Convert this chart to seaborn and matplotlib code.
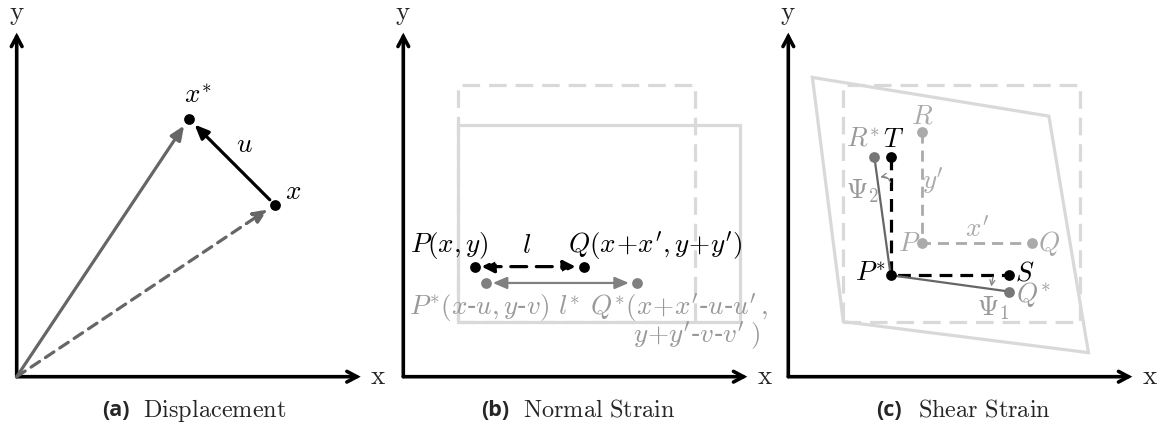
import matplotlib
matplotlib.use("Agg")
import matplotlib.pyplot as plt
import seaborn as sns

sns.set_theme(style="white")
plt.rcParams["mathtext.fontset"] = "cm"
plt.rcParams["font.family"] = ["DejaVu Serif"]

W, H = 1164, 433
PX = 86.0          # pixels per diagram unit
AXIS_LEN = 4.0

# ---- (a) displacement ----
a_x = (3.0, 2.0)
a_xstar = (2.0, 3.0)

# ---- (b) normal strain ----
b_rect_ref = [(0.64, 0.64), (3.39, 0.64), (3.39, 3.39), (0.64, 3.39)]
b_rect_def = [(0.64, 0.64), (3.92, 0.64), (3.92, 2.93), (0.64, 2.93)]
b_P, b_Q = (0.83, 1.28), (2.10, 1.28)
b_Ps, b_Qs = (0.96, 1.09), (2.72, 1.09)

# ---- (c) shear strain ----
c_rect_ref = [(0.64, 0.64), (3.39, 0.64), (3.39, 3.39), (0.64, 3.39)]
c_rect_def = [(0.64, 0.64), (3.49, 0.28), (3.03, 3.03), (0.28, 3.48)]
c_R, c_P, c_Q = (1.56, 2.84), (1.56, 1.56), (2.83, 1.56)
c_Ps, c_S, c_T = (1.19, 1.18), (2.57, 1.18), (1.19, 2.56)
c_Rs, c_Qs = (1.00, 2.56), (2.57, 0.99)

BLACK = "#000000"
DARK = "#666666"
MID = "#808080"
LIGHTTXT = "#999999"
PALE = "#aaaaaa"
RECT = "#d9d9d9"
FS = 19.5


def panel(fig, left_px, right_px, origin_px):
    ox, oy = origin_px
    ax = fig.add_axes([left_px / W, 0, (right_px - left_px) / W, 1])
    ax.set_xlim((left_px - ox) / PX, (right_px - ox) / PX)
    ax.set_ylim((oy - H) / PX, oy / PX)
    ax.axis("off")
    return ax


def axes_arrows(ax):
    style = "->,head_length=0.6,head_width=0.32"
    for end in [(AXIS_LEN, 0), (0, AXIS_LEN)]:
        ax.annotate("", xy=end, xytext=(0, 0),
                    arrowprops=dict(arrowstyle=style, color=BLACK, lw=2.6,
                                    shrinkA=0, shrinkB=0, joinstyle="miter"))
    ax.text(0, AXIS_LEN + 0.22, r"$\mathrm{y}$", ha="center", va="center",
            fontsize=FS)
    ax.text(AXIS_LEN + 0.2, 0.0, r"$\mathrm{x}$", ha="center", va="center",
            fontsize=FS)


def dots(ax, pts, color, size=60):
    xs = [p[0] for p in pts]
    ys = [p[1] for p in pts]
    sns.scatterplot(x=xs, y=ys, ax=ax, color=color, s=size, linewidth=0,
                    zorder=6, legend=False)


def arrow(ax, start, end, color, lw=2.2, ls="-", style="-|>", hl=0.7, hw=0.3,
          sa=0, sb=0):
    ax.annotate("", xy=end, xytext=start,
                arrowprops=dict(arrowstyle=f"{style},head_length={hl},head_width={hw}",
                                color=color, lw=lw, linestyle=ls,
                                shrinkA=sa, shrinkB=sb), zorder=4)


def polygon(ax, pts, color, ls="-", lw=2.3):
    xs = [p[0] for p in pts] + [pts[0][0]]
    ys = [p[1] for p in pts] + [pts[0][1]]
    ax.plot(xs, ys, color=color, lw=lw, linestyle=ls, zorder=1,
            solid_joinstyle="miter")


def caption(ax, x_tag, x_txt, y, tag, words):
    ax.text(x_tag, y, tag, ha="left", va="center", fontsize=15.5,
            fontweight="bold", family="Open Sans")
    ax.text(x_txt, y, r"$\mathrm{" + words.replace(" ", r"\ ") + "}$",
            ha="left", va="center", fontsize=17.5)


def label(ax, x, y, s, color=BLACK, ha="center"):
    ax.text(x, y, s, fontsize=FS, ha=ha, va="center", color=color, zorder=7)


fig = plt.figure(figsize=(W / 100, H / 100), dpi=100)

# (a)
ax = panel(fig, 0, 388, (16.7, 376.7))
axes_arrows(ax)
arrow(ax, (0, 0), a_xstar, DARK, lw=2.3, sb=6)
arrow(ax, (0, 0), a_x, DARK, lw=2.3, ls=(0, (3.2, 2.2)), sb=6)
arrow(ax, a_x, a_xstar, BLACK, lw=2.3, sa=5, sb=6)
dots(ax, [a_x, a_xstar], BLACK)
label(ax, 2.10, 3.27, r"$x^{*}$")
label(ax, 3.21, 2.15, r"$x$")
label(ax, 2.65, 2.70, r"$u$")
caption(ax, 0.99, 1.47, -0.39, "(a)", "Displacement")

# (b)
ax = panel(fig, 388, 775, (403.3, 376.7))
polygon(ax, b_rect_ref, RECT, ls=(0, (5.5, 2.8)))
polygon(ax, b_rect_def, RECT)
axes_arrows(ax)
arrow(ax, b_P, b_Q, BLACK, lw=2.3, ls=(0, (5.0, 3.0)), style="<|-|>",
      hl=0.6, hw=0.3, sa=5, sb=6)
arrow(ax, b_Ps, b_Qs, MID, lw=1.6, style="<|-|>", hl=0.7, hw=0.3, sa=5, sb=6)
dots(ax, [b_P, b_Q], BLACK)
dots(ax, [b_Ps, b_Qs], MID)
label(ax, 0.54, 1.52, r"$P(x,y)$")
label(ax, 1.43, 1.52, r"$l$")
label(ax, 1.91, 1.52, r"$Q(x\!+\!x^{\prime},y\!+\!y^{\prime})$", ha="left")
label(ax, 0.07, 0.80, r"$P^{*}(x$-$u,y$-$v)$", LIGHTTXT, ha="left")
label(ax, 1.92, 0.80, r"$l^{*}$", LIGHTTXT)
label(ax, 2.17, 0.80, r"$Q^{*}(x\!+\!x^{\prime}$-$u$-$u^{\prime}\,,$",
      LIGHTTXT, ha="left")
label(ax, 2.67, 0.47, r"$y\!+\!y^{\prime}$-$v$-$v^{\prime}\;)$", LIGHTTXT,
      ha="left")
caption(ax, 0.91, 1.39, -0.39, "(b)", "Normal Strain")

# (c)
ax = panel(fig, 775, 1164, (788.3, 376.7))
polygon(ax, c_rect_ref, RECT, ls=(0, (5.5, 2.8)))
polygon(ax, c_rect_def, RECT)
axes_arrows(ax)
ax.plot([c_R[0], c_P[0], c_Q[0]], [c_R[1], c_P[1], c_Q[1]], color=PALE,
        lw=2.0, linestyle=(0, (4.0, 2.5)), zorder=2)
ax.plot([c_T[0], c_Ps[0], c_S[0]], [c_T[1], c_Ps[1], c_S[1]], color=BLACK,
        lw=2.3, linestyle=(0, (4.0, 2.5)), zorder=3)
ax.plot([c_Rs[0], c_Ps[0], c_Qs[0]], [c_Rs[1], c_Ps[1], c_Qs[1]], color=DARK,
        lw=1.6, zorder=3)
arrow(ax, (2.38, 1.16), (2.36, 1.05), MID, lw=0.9, style="->", hl=0.3,
      hw=0.15)
ax.annotate("", xy=(1.07, 2.32), xytext=(1.19, 2.26),
            arrowprops=dict(arrowstyle="->,head_length=0.3,head_width=0.15",
                            color=MID, lw=0.9, shrinkA=0, shrinkB=0,
                            connectionstyle="arc3,rad=0.4"), zorder=4)
dots(ax, [c_R, c_P, c_Q], PALE)
dots(ax, [c_Rs, c_Qs], "#777777")
dots(ax, [c_Ps, c_S, c_T], BLACK)
label(ax, 1.56, 3.03, r"$R$", PALE)
label(ax, 0.87, 2.76, r"$R^{*}$", LIGHTTXT)
label(ax, 1.22, 2.76, r"$T$")
label(ax, 1.68, 2.28, r"$y^{\prime}$", PALE)
label(ax, 0.86, 2.16, r"$\Psi_2$", LIGHTTXT)
label(ax, 1.40, 1.55, r"$P$", PALE)
label(ax, 2.19, 1.72, r"$x^{\prime}$", PALE)
label(ax, 3.03, 1.55, r"$Q$", PALE)
label(ax, 0.96, 1.20, r"$P^{*}$")
label(ax, 2.75, 1.21, r"$S$")
label(ax, 2.85, 0.96, r"$Q^{*}$", LIGHTTXT)
label(ax, 2.38, 0.80, r"$\Psi_1$", LIGHTTXT)
caption(ax, 1.02, 1.51, -0.39, "(c)", "Shear Strain")

fig.savefig("out.png", dpi=100, facecolor="white")
